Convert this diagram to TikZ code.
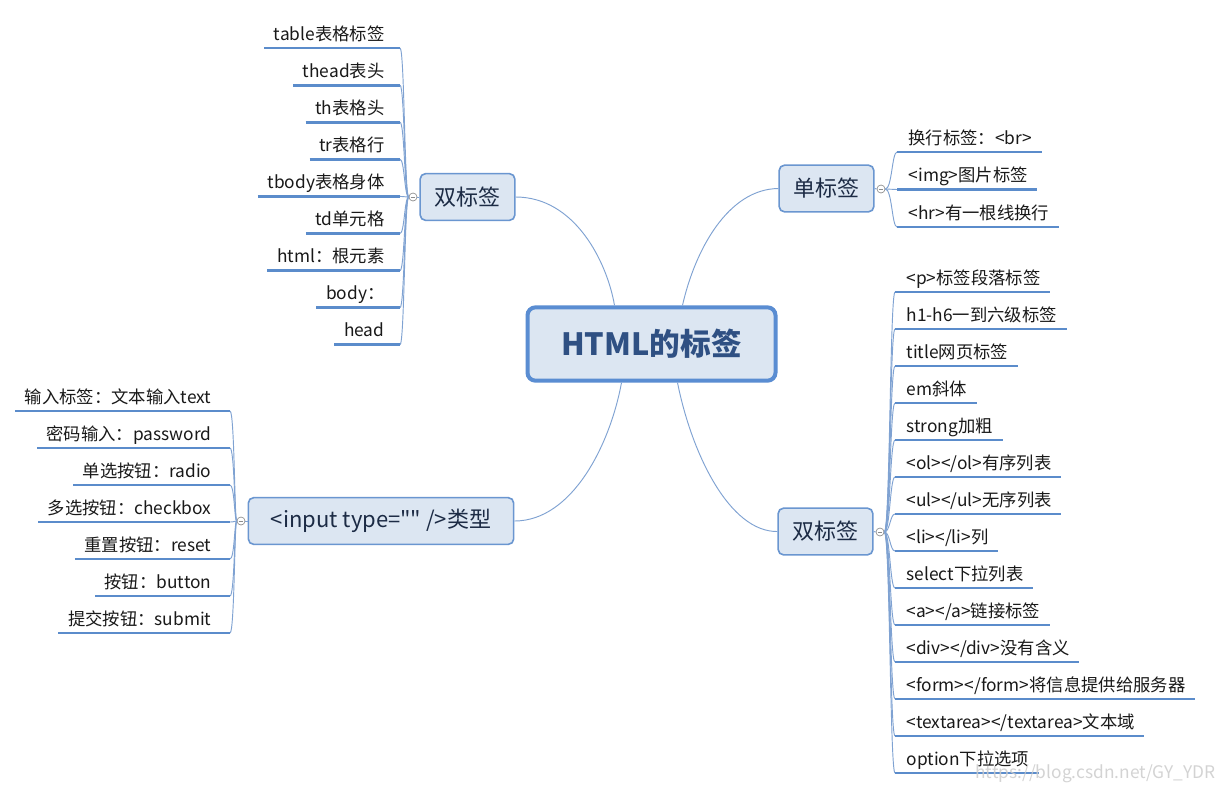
\documentclass[tikz,border=0pt]{standalone}
\usepackage{fontspec}
\setmainfont{Noto Sans CJK SC}[Ligatures=TeXOff]
\usetikzlibrary{calc}
\definecolor{boxfill}{HTML}{DCE6F2}
\definecolor{boxline}{HTML}{6A96D0}
\definecolor{ctrline}{HTML}{5A8DD2}
\definecolor{ctrtext}{HTML}{2F5083}
\definecolor{brtext}{HTML}{1C2B45}
\definecolor{ulcol}{HTML}{5B8CCB}
\definecolor{linkcol}{HTML}{7FA2D2}
\definecolor{circcol}{HTML}{8C8C8C}
\tikzset{
  leaf/.style={font=\fontsize{13}{15}\selectfont, text=black!90, inner xsep=7pt, inner ysep=2pt},
  uline/.style={draw=ulcol, line width=2.2pt},
  link/.style={draw=linkcol, line width=0.7pt},
  branch/.style={draw=boxline, fill=boxfill, line width=1.2pt, rounded corners=4pt,
    font=\fontsize{16.5}{18}\selectfont, text=brtext, minimum height=35pt},
  center/.style={draw=ctrline, fill=boxfill, line width=3pt, rounded corners=6pt,
    font=\fontsize{23}{26}\selectfont\bfseries, text=ctrtext, minimum width=186pt, minimum height=55pt},
  toggle/.style={circle, draw=circcol, fill=white, line width=0.5pt, minimum size=6pt, inner sep=0pt,
    path picture={\draw[circcol, line width=0.5pt] ([xshift=-1.8pt]path picture bounding box.center) -- ([xshift=1.8pt]path picture bounding box.center);}},
}
\begin{document}
\begin{tikzpicture}[x=0.75pt, y=-0.75pt]
\useasboundingbox[fill=white] (0,0) rectangle (1227,790);

% central and branch nodes
\node[center] (ctr) at (651.5,344) {HTML的标签};
\node[branch, minimum width=71pt] (b1) at (467.5,197) {双标签};
\node[branch, minimum width=71pt] (b2) at (826.5,188.5) {单标签};
\node[branch, minimum width=199pt] (b3) at (381,521) {<input type="" />类型};
\node[branch, minimum width=71pt] (b4) at (825.5,531.5) {双标签};

% connection points on the central node
\coordinate (p1) at ($(ctr.north west)+(89,0)$);
\coordinate (p2) at ($(ctr.north west)+(157,0)$);
\coordinate (p3) at ($(ctr.south west)+(96,0)$);
\coordinate (p4) at ($(ctr.south west)+(152,0)$);

\draw[link] (b1.east) .. controls (575,197) and (607,262) .. (p1);
\draw[link] (p2) .. controls (695,250) and (728,189) .. (b2.west);
\draw[link] (p3) .. controls (610,445) and (572,521) .. (b3.east);
\draw[link] (p4) .. controls (692,455) and (730,532) .. (b4.west);

% toggles
\node[toggle] (c1) at (413,197) {};
\node[toggle] (c2) at (881,189) {};
\node[toggle] (c3) at (241,521) {};
\node[toggle] (c4) at (880,532) {};
\draw[link] (c1.east) -- (b1.west);
\draw[link] (b2.east) -- (c2.west);
\draw[link] (c3.east) -- (b3.west);
\draw[link] (b4.east) -- (c4.west);

% group 1: left top
\foreach \t [count=\i from 0] in {table表格标签, thead表头, th表格头, tr表格行, tbody表格身体, td单元格, html：根元素, body：, head}{
  \pgfmathsetmacro\uy{48+37.1*\i}
  \coordinate (ua\i) at (400,\uy);
  \draw[link] (c1.west) .. controls (404.5,197) and (404.5,\uy) .. (ua\i);
  \node[leaf, anchor=base east] (a\i) at (394,\uy-8) {\t};
  \draw[uline] (a\i.west |- ua\i) -- (ua\i);
}

% group 2: right top
\foreach \t [count=\i from 0] in {换行标签：<br>, <img>图片标签, <hr>有一根线换行}{
  \pgfmathsetmacro\uy{152+37.5*\i}
  \coordinate (ub\i) at (897,\uy);
  \draw[link] (c2.east) .. controls (892,189) and (892,\uy) .. (ub\i);
  \node[leaf, anchor=base west] (bb\i) at (899,\uy-8) {\t};
  \draw[uline] (ub\i) -- (bb\i.east |- ub\i);
}

% group 3: left bottom
\foreach \t [count=\i from 0] in {输入标签：文本输入text, 密码输入：password, 单选按钮：radio, 多选按钮：checkbox, 重置按钮：reset, 按钮：button, 提交按钮：submit}{
  \pgfmathsetmacro\uy{411+37*\i}
  \coordinate (uc\i) at (230,\uy);
  \draw[link] (c3.west) .. controls (234.5,521) and (234.5,\uy) .. (uc\i);
  \node[leaf, anchor=base east] (cc\i) at (221,\uy-8) {\t};
  \draw[uline] (cc\i.west |- uc\i) -- (uc\i);
}

% group 4: right bottom
\foreach \t [count=\i from 0] in {<p>标签段落标签, h1-h6一到六级标签, title网页标签, em斜体, strong加粗, <ol></ol>有序列表, <ul></ul>无序列表, <li></li>列, select下拉列表, <a></a>链接标签, <div></div>没有含义, <form></form>将信息提供给服务器, <textarea></textarea>文本域, option下拉选项}{
  \pgfmathsetmacro\uy{292+37*\i}
  \coordinate (ud\i) at (895,\uy);
  \draw[link] (c4.east) .. controls (890,532) and (890,\uy) .. (ud\i);
  \node[leaf, anchor=base west] (dd\i) at (897,\uy-8) {\t};
  \draw[uline] (ud\i) -- (dd\i.east |- ud\i);
}

% watermark
\node[anchor=east, text=gray!40, text opacity=0.85, font=\fontsize{13}{15}\selectfont, inner sep=0pt] (wm) at (1216,774) {https://blog.csdn.net/GY\_YDR};
\end{tikzpicture}
\end{document}
